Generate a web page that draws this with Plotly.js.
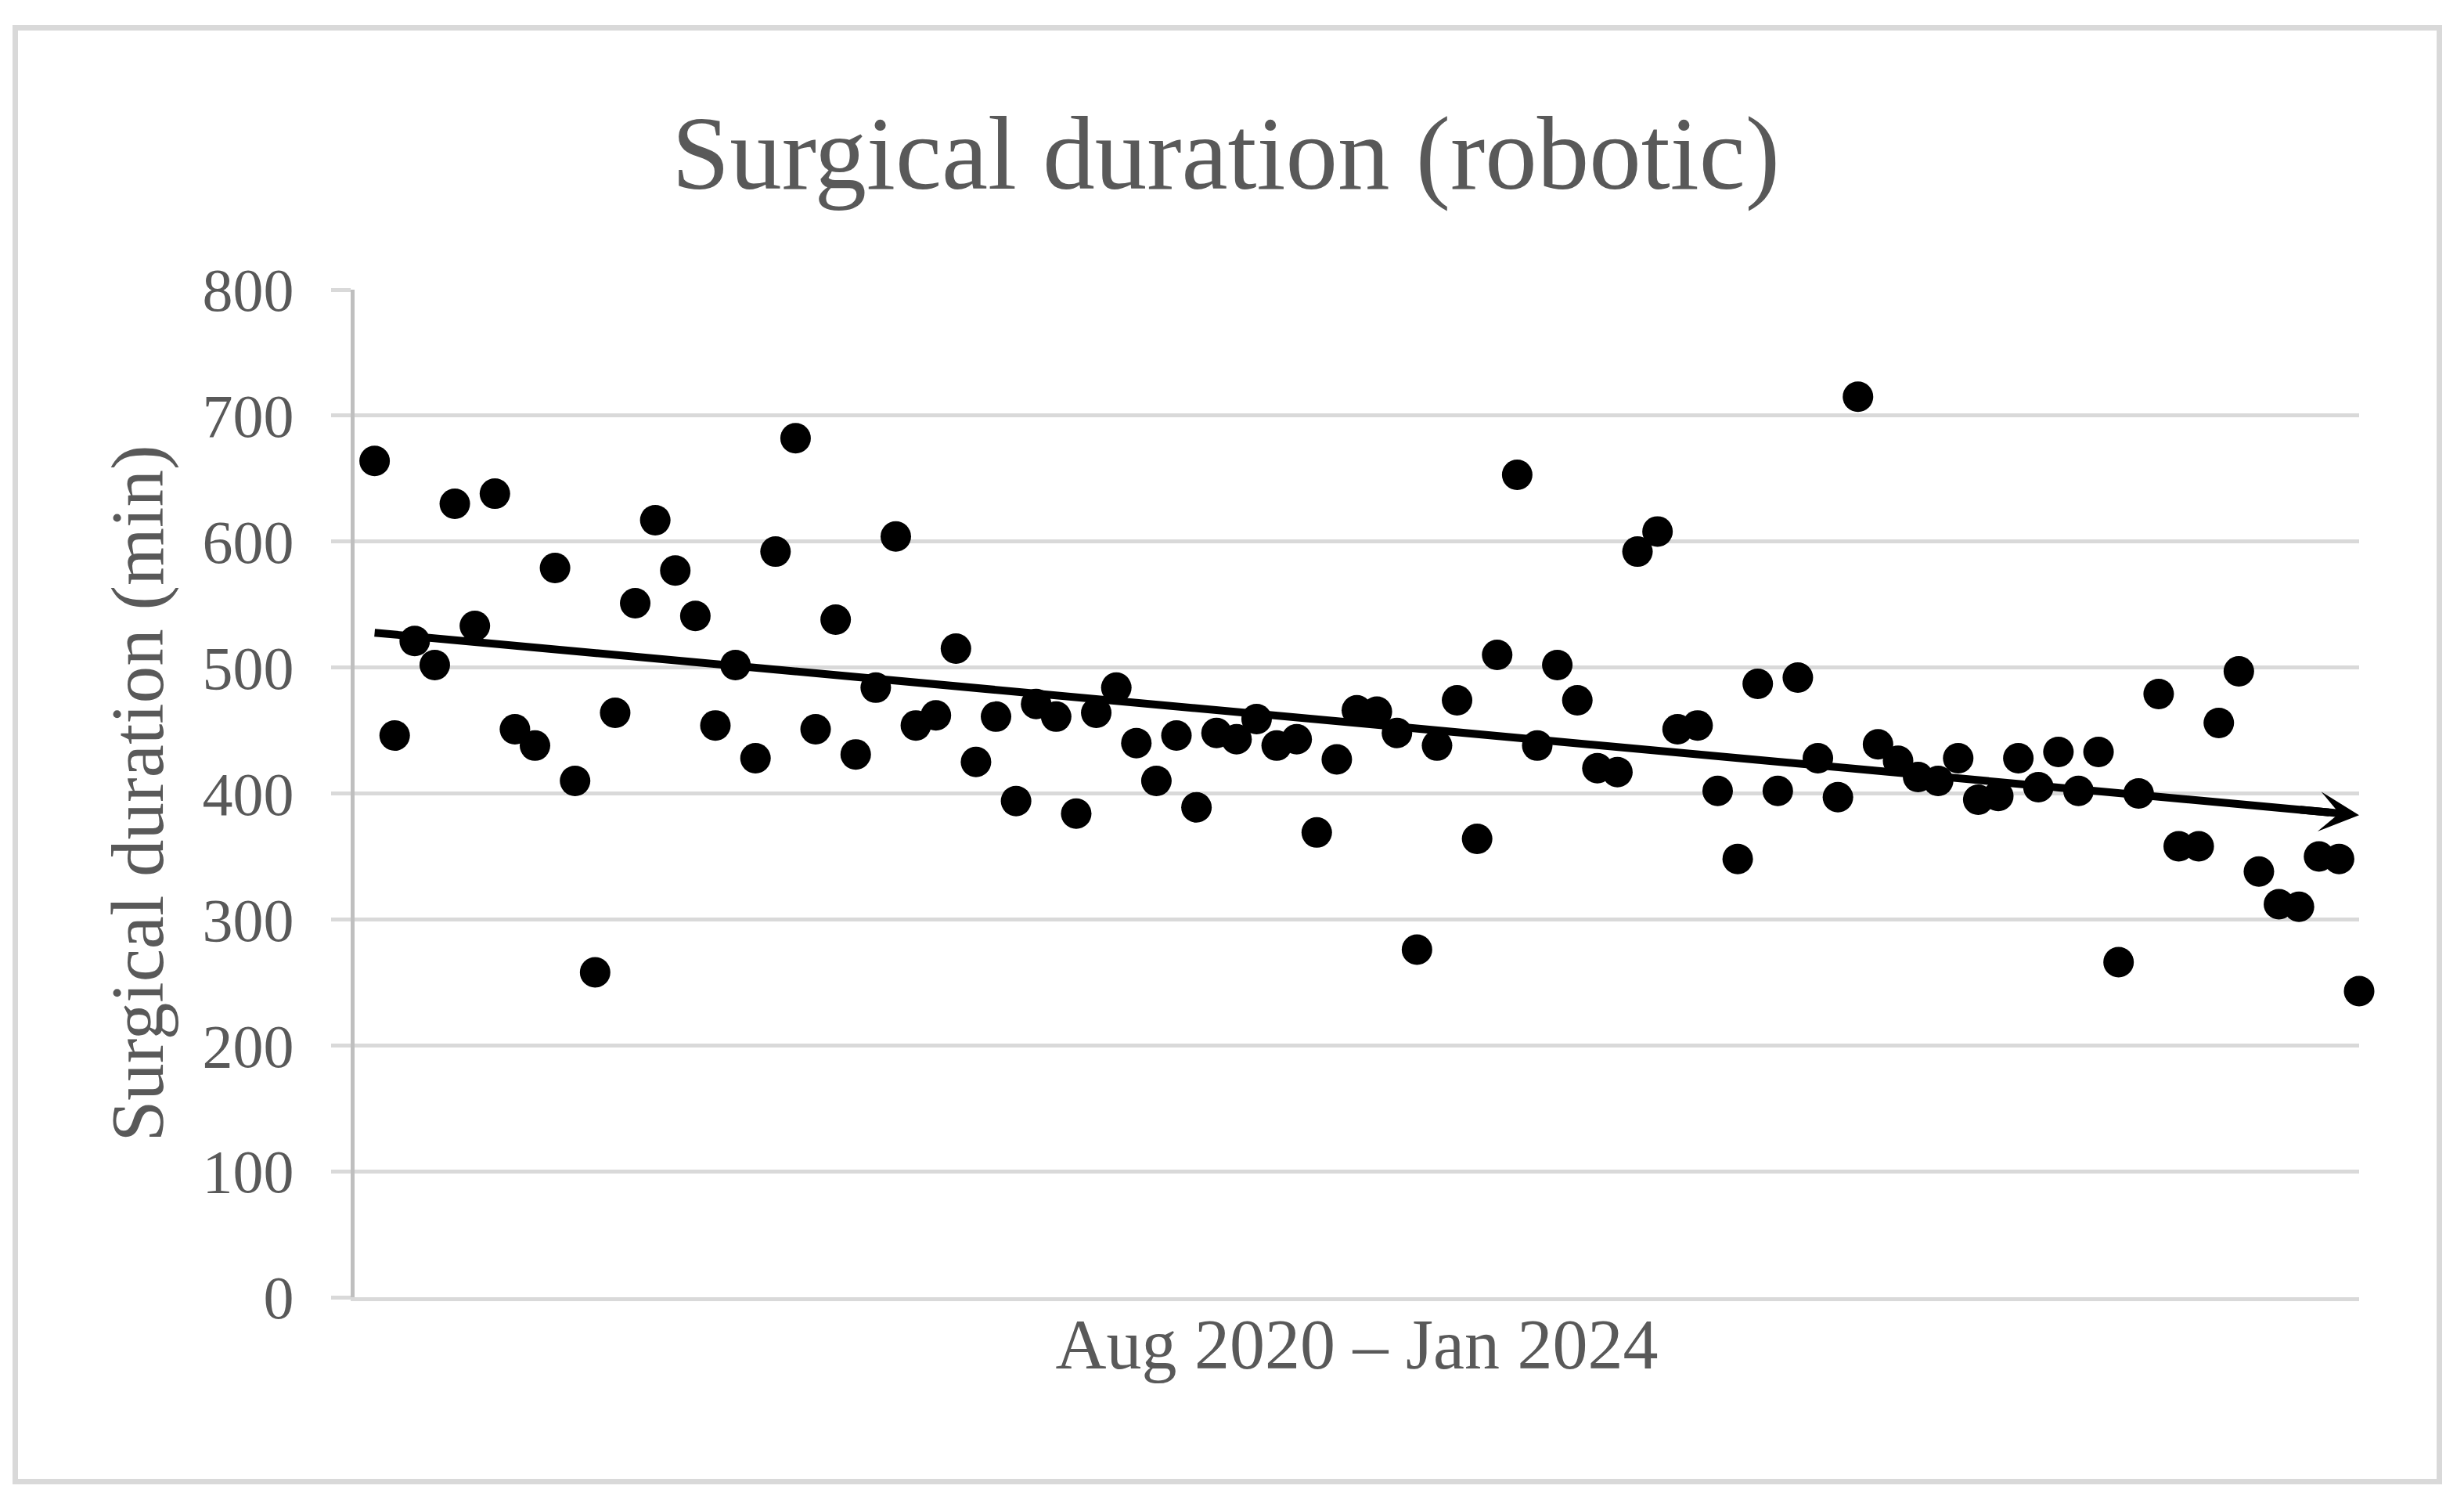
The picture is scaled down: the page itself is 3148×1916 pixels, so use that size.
<!DOCTYPE html>
<html>
<head>
<meta charset="utf-8">
<script src="https://cdn.plot.ly/plotly-3.0.1.min.js"></script>
<style>
  html, body { margin: 0; padding: 0; background: #ffffff; }
  #wrap { position: relative; width: 3148px; height: 1916px; }
  #chart { position: absolute; left: 0; top: 0; width: 3148px; height: 1916px; }
  #frame { position: absolute; left: 16px; top: 32px; width: 3104px; height: 1864px;
           box-sizing: border-box; border: 7px solid #d9d9d9; pointer-events: none; }
</style>
</head>
<body>
<div id="wrap">
  <div id="chart"></div>
  <div id="frame"></div>
</div>
<script>
// Surgical duration (minutes) per robotic case, Aug 2020 – Jan 2024, in chronological order
const durations = [
  664, 446, 521, 502, 630, 533, 638, 451, 438, 579,
  410, 258, 464, 551, 617, 577, 541, 454, 502, 428,
  592, 682, 451, 538, 431, 484, 604, 454, 462, 515,
  425, 461, 394, 471, 461, 384, 464, 484, 440, 410,
  446, 389, 448, 443, 459, 438, 443, 369, 427, 466,
  465, 448, 276, 438, 474, 364, 510, 653, 438, 502,
  474, 420, 417, 592, 608, 451, 454, 402, 348, 487,
  402, 492, 428, 397, 715, 439, 426, 413, 410, 428,
  395, 398, 428, 405, 433, 402, 433, 266, 400, 479,
  358, 358, 456, 497, 338, 312, 310, 350, 348, 243
];
const chartTitle = "Surgical duration (robotic)";
const xTitle = "Aug 2020 – Jan 2024";
const yTitle = "Surgical duration (min)";
const yTickValues = [0, 100, 200, 300, 400, 500, 600, 700, 800];

// case index (1..N)
const caseIndex = durations.map((_, i) => i + 1);

// least-squares linear trend
const n = caseIndex.length;
const mx = caseIndex.reduce((a, b) => a + b, 0) / n;
const my = durations.reduce((a, b) => a + b, 0) / n;
let sxy = 0, sxx = 0;
for (let i = 0; i < n; i++) {
  sxy += (caseIndex[i] - mx) * (durations[i] - my);
  sxx += (caseIndex[i] - mx) * (caseIndex[i] - mx);
}
const slope = sxy / sxx;
const intercept = my - slope * mx;
const trendX = [caseIndex[0], caseIndex[n - 1]];
const trendY = trendX.map(x => intercept + slope * x);

const FONT = "Liberation Serif, Times New Roman, serif";
const TXT = "#595959";

const traces = [
  {
    type: "scatter", mode: "lines",
    x: [trendX[0], trendX[1] - 1.5],
    y: [trendY[0], intercept + slope * (trendX[1] - 1.5)],
    line: { color: "#000000", width: 10 },
    cliponaxis: false,
    hoverinfo: "skip", showlegend: false
  },
  {
    type: "scatter", mode: "markers",
    x: caseIndex, y: durations,
    marker: { color: "#000000", size: 39, line: { width: 0 } },
    cliponaxis: false,
    showlegend: false
  }
];

const headBackX = trendX[1] - 3;
const layout = {
  width: 3148, height: 1916,
  margin: { l: 453, r: 134, t: 370, b: 259, pad: 0 },
  paper_bgcolor: "#ffffff", plot_bgcolor: "#ffffff",
  font: { family: FONT, color: TXT },
  showlegend: false,
  title: {
    text: chartTitle,
    font: { family: FONT, size: 133, color: TXT },
    xref: "container", x: 0.4975, xanchor: "center",
    yref: "container", y: 1 - 194 / 1916, yanchor: "middle"
  },
  xaxis: {
    range: [0, n],
    showgrid: false, zeroline: false,
    showticklabels: false, ticks: "",
    showline: true, linecolor: "#d9d9d9", linewidth: 5,
    title: { text: xTitle, font: { family: FONT, size: 90, color: TXT }, standoff: 25 },
    automargin: false
  },
  yaxis: {
    range: [0, 800],
    tickvals: yTickValues,
    ticktext: yTickValues.map(String),
    tickfont: { family: FONT, size: 78, color: TXT },
    ticks: "outside", ticklen: 25, tickwidth: 5, tickcolor: "#d9d9d9",
    ticklabelstandoff: 32,
    showgrid: true, gridcolor: "#d9d9d9", gridwidth: 5,
    zeroline: false,
    showline: true, linecolor: "#bfbfbf", linewidth: 5,
    title: { text: yTitle, font: { family: FONT, size: 95, color: TXT }, standoff: 20 },
    automargin: false
  },
  annotations: [
    {
      x: trendX[1], y: trendY[1],
      ax: headBackX, ay: intercept + slope * headBackX,
      xref: "x", yref: "y", axref: "x", ayref: "y",
      text: "", showarrow: true,
      arrowhead: 3, arrowsize: 0.85, arrowwidth: 10, arrowcolor: "#000000",
      standoff: 0, startstandoff: 0
    }
  ]
};

Plotly.newPlot("chart", traces, layout, { displayModeBar: false, staticPlot: true });
</script>
</body>
</html>
